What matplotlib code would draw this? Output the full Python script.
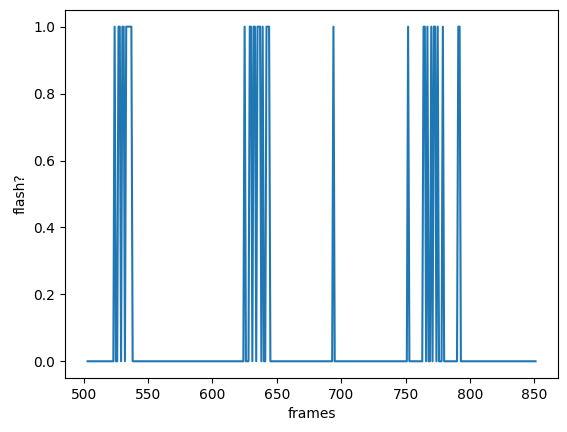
import numpy as np
import matplotlib
matplotlib.use("Agg")
import matplotlib.pyplot as plt

start_frame = 503
end_frame = 851
flash_frames = [524, 527, 528, 530, 531, 533, 534, 535, 536, 537,
                625, 629, 630, 632, 633, 635, 636, 637, 639, 642, 643, 644,
                694,
                752, 764, 765, 767, 770, 772, 773, 775, 779, 791, 792]

frames = np.arange(start_frame, end_frame + 1)
flash = np.isin(frames, flash_frames).astype(float)

fig, ax = plt.subplots(figsize=(5.67, 4.32), dpi=100)
fig.subplots_adjust(left=0.115, right=0.984, top=0.977, bottom=0.125)
ax.plot(frames, flash)
ax.set_xlabel("frames")
ax.set_ylabel("flash?")
fig.savefig("out.png")
